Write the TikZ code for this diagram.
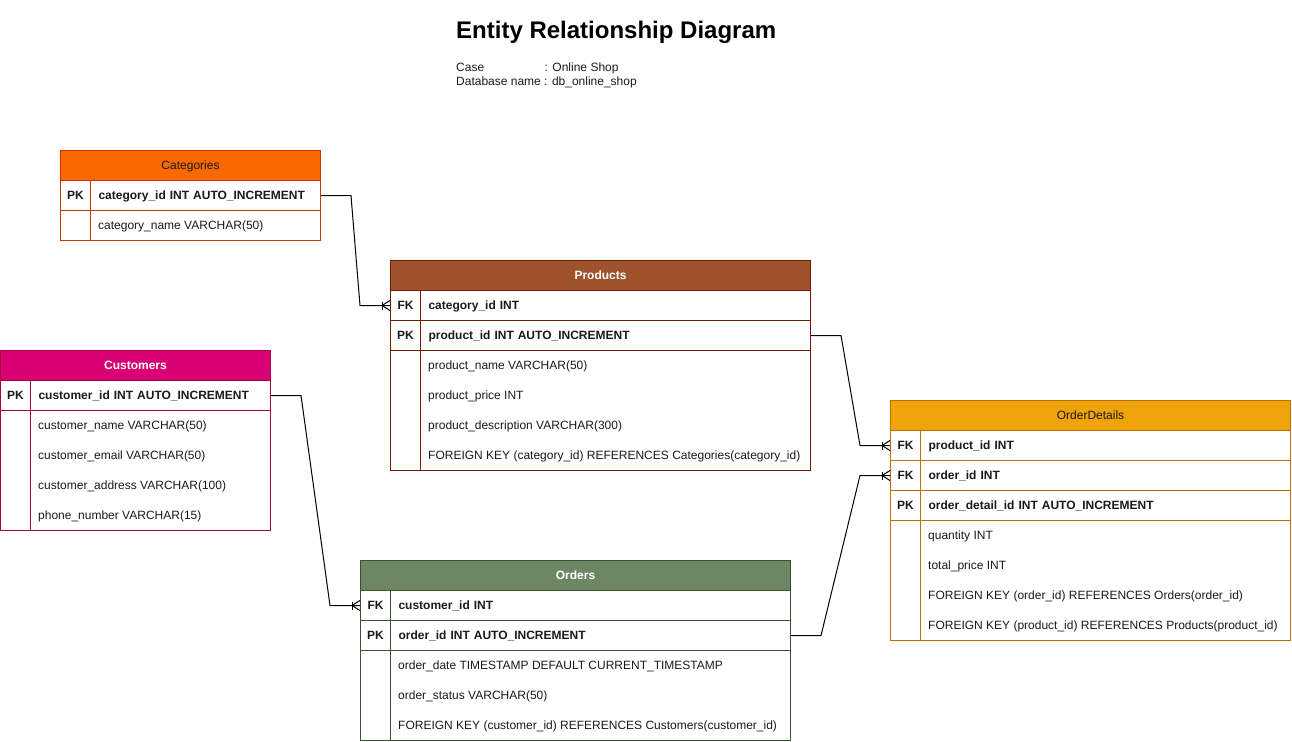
\documentclass[tikz,border=0pt]{standalone}
\usepackage{fontspec}
\setmainfont{Liberation Sans}
\usetikzlibrary{calc}
\definecolor{catfill}{HTML}{FA6800}\definecolor{catline}{HTML}{C73500}
\definecolor{prodfill}{HTML}{A0522D}\definecolor{prodline}{HTML}{6D1F00}
\definecolor{custfill}{HTML}{D80073}\definecolor{custline}{HTML}{A50040}
\definecolor{ordfill}{HTML}{6D8764}\definecolor{ordline}{HTML}{3A5431}
\definecolor{odfill}{HTML}{F0A30A}\definecolor{odline}{HTML}{BD7000}
\definecolor{txt}{HTML}{1A1A1A}
\tikzset{
  tbl/.style={line width=1pt, inner sep=0pt, anchor=north west},
  tx/.style={text height=11pt, text depth=3pt},
  hdr/.style={tbl, tx, minimum height=30pt, font=\fontsize{12}{14}\selectfont\bfseries},
  keycell/.style={tbl, tx, minimum width=30pt, minimum height=30pt, font=\fontsize{12}{14}\selectfont\bfseries, text=txt},
  fieldcell/.style={tbl, tx, minimum height=30pt, font=\fontsize{12}{14}\selectfont\bfseries, text=txt},
  bodycell/.style={tbl},
  attr/.style={tx, inner sep=0pt, anchor=west, font=\fontsize{12}{14}\selectfont, text=txt},
  conn/.style={line width=1pt, black},
}
\newcommand\crowfoot[1]{%
  \draw[conn] ($(#1.west)+(-8,-4)$) -- ($(#1.west)+(-8,4)$);
  \draw[conn] ($(#1.west)+(0,-5)$) -- ($(#1.west)+(-8,0)$) -- ($(#1.west)+(0,5)$);
}
% #1 name, #2 x, #3 y, #4 total width, #5 line color, #6 key, #7 text
\newcommand\fieldrow[7]{%
  \node[keycell, draw=#5] (#1k) at (#2,#3) {#6};
  \node[fieldcell, draw=#5, minimum width=#4-30, text width=#4-46, inner xsep=8pt, align=left] (#1) at (#2+30,#3) {#7};
}
\begin{document}
\begin{tikzpicture}[x=1pt,y=-1pt]
\useasboundingbox (0,0) rectangle (1292,741);

% Title
\node[anchor=base west, inner sep=0pt, font=\fontsize{24}{28}\selectfont\bfseries] (title) at (456,39) {Entity Relationship Diagram};
\node[attr] (caselbl) at (456,68) {Case};
\node[attr] (caseval) at (544.5,68) {: Online Shop};
\node[attr] (dblbl) at (456,82) {Database name : db\_online\_shop};

% Categories
\node[hdr, fill=catfill, draw=catline, minimum width=260pt, text=txt, font=\fontsize{12}{14}\selectfont] (cat) at (60,150) {Categories};
\fieldrow{catpk}{60}{180}{260}{catline}{PK}{category\_id INT AUTO\_INCREMENT}
\node[keycell, draw=catline] (catbk) at (60,210) {};
\node[bodycell, draw=catline, minimum width=230pt, minimum height=30pt] (catb) at (90,210) {};
\node[attr] (cat1) at (98,225) {category\_name VARCHAR(50)};

% Products
\node[hdr, fill=prodfill, draw=prodline, minimum width=420pt, text=white] (prod) at (390,260) {Products};
\fieldrow{prodfk}{390}{290}{420}{prodline}{FK}{category\_id INT}
\fieldrow{prodpk}{390}{320}{420}{prodline}{PK}{product\_id INT AUTO\_INCREMENT}
\node[bodycell, draw=prodline, minimum width=30pt, minimum height=120pt] (prodbk) at (390,350) {};
\node[bodycell, draw=prodline, minimum width=390pt, minimum height=120pt] (prodb) at (420,350) {};
\node[attr] (prod1) at (428,365) {product\_name VARCHAR(50)};
\node[attr] (prod2) at (428,395) {product\_price INT};
\node[attr] (prod3) at (428,425) {product\_description VARCHAR(300)};
\node[attr] (prod4) at (428,455) {FOREIGN KEY (category\_id) REFERENCES Categories(category\_id)};

% Customers
\node[hdr, fill=custfill, draw=custline, minimum width=270pt, text=white] (cust) at (0,350) {Customers};
\fieldrow{custpk}{0}{380}{270}{custline}{PK}{customer\_id INT AUTO\_INCREMENT}
\node[bodycell, draw=custline, minimum width=30pt, minimum height=120pt] (custbk) at (0,410) {};
\node[bodycell, draw=custline, minimum width=240pt, minimum height=120pt] (custb) at (30,410) {};
\node[attr] (cust1) at (38,425) {customer\_name VARCHAR(50)};
\node[attr] (cust2) at (38,455) {customer\_email VARCHAR(50)};
\node[attr] (cust3) at (38,485) {customer\_address VARCHAR(100)};
\node[attr] (cust4) at (38,515) {phone\_number VARCHAR(15)};

% Orders
\node[hdr, fill=ordfill, draw=ordline, minimum width=430pt, text=white] (ord) at (360,560) {Orders};
\fieldrow{ordfk}{360}{590}{430}{ordline}{FK}{customer\_id INT}
\fieldrow{ordpk}{360}{620}{430}{ordline}{PK}{order\_id INT AUTO\_INCREMENT}
\node[bodycell, draw=ordline, minimum width=30pt, minimum height=90pt] (ordbk) at (360,650) {};
\node[bodycell, draw=ordline, minimum width=400pt, minimum height=90pt] (ordb) at (390,650) {};
\node[attr] (ord1) at (398,665) {order\_date TIMESTAMP DEFAULT CURRENT\_TIMESTAMP};
\node[attr] (ord2) at (398,695) {order\_status VARCHAR(50)};
\node[attr] (ord3) at (398,725) {FOREIGN KEY (customer\_id) REFERENCES Customers(customer\_id)};

% OrderDetails
\node[hdr, fill=odfill, draw=odline, minimum width=400pt, text=txt, font=\fontsize{12}{14}\selectfont] (od) at (890,400) {OrderDetails};
\fieldrow{odfkp}{890}{430}{400}{odline}{FK}{product\_id INT}
\fieldrow{odfko}{890}{460}{400}{odline}{FK}{order\_id INT}
\fieldrow{odpk}{890}{490}{400}{odline}{PK}{order\_detail\_id INT AUTO\_INCREMENT}
\node[bodycell, draw=odline, minimum width=30pt, minimum height=120pt] (odbk) at (890,520) {};
\node[bodycell, draw=odline, minimum width=370pt, minimum height=120pt] (odb) at (920,520) {};
\node[attr] (od1) at (928,535) {quantity INT};
\node[attr] (od2) at (928,565) {total\_price INT};
\node[attr] (od3) at (928,595) {FOREIGN KEY (order\_id) REFERENCES Orders(order\_id)};
\node[attr] (od4) at (928,625) {FOREIGN KEY (product\_id) REFERENCES Products(product\_id)};

% Connectors
\draw[conn] (catpk.east) -- ++(30,0) -- ($(prodfkk.west)+(-30,0)$) -- (prodfkk.west);
\crowfoot{prodfkk}
\draw[conn] (prodpk.east) -- ++(30,0) -- ($(odfkpk.west)+(-30,0)$) -- (odfkpk.west);
\crowfoot{odfkpk}
\draw[conn] (ordpk.east) -- ++(30,0) -- ($(odfkok.west)+(-30,0)$) -- (odfkok.west);
\crowfoot{odfkok}
\draw[conn] (custpk.east) -- ++(30,0) -- ($(ordfkk.west)+(-30,0)$) -- (ordfkk.west);
\crowfoot{ordfkk}
\end{tikzpicture}
\end{document}
